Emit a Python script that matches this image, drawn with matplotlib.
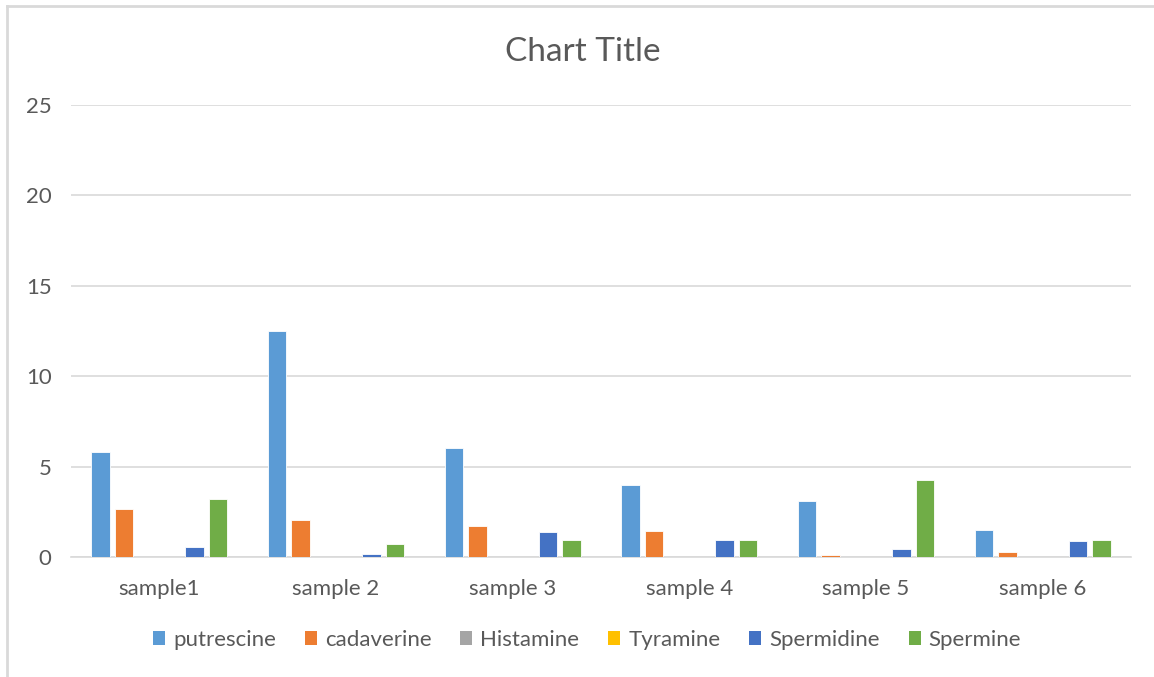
import matplotlib
matplotlib.use("Agg")
import matplotlib.pyplot as plt
from matplotlib.patches import Patch
from matplotlib.lines import Line2D
import numpy as np

# Chart data
samples = ["sample1", "sample 2", "sample 3", "sample 4", "sample 5", "sample 6"]
series_names = ["putrescine", "cadaverine", "Histamine", "Tyramine", "Spermidine", "Spermine"]
putrescine = [5.82, 12.5, 6.03, 3.99, 3.07, 1.51]
cadaverine = [2.63, 2.02, 1.73, 1.43, 0.09, 0.29]
histamine = [0, 0, 0, 0, 0, 0]
tyramine = [0, 0, 0, 0, 0, 0]
spermidine = [0.57, 0.15, 1.36, 0.96, 0.46, 0.86]
spermine = [3.2, 0.74, 0.96, 0.96, 4.26, 0.94]
y_ticks = [0, 5, 10, 15, 20, 25]

series_values = [putrescine, cadaverine, histamine, tyramine, spermidine, spermine]
colors = ["#5B9BD5", "#ED7D31", "#A5A5A5", "#FFC000", "#4472C4", "#70AD47"]
text_color = "#595959"
grid_color = "#D9D9D9"
font = ["Lato", "DejaVu Sans"]

plt.rcParams["font.family"] = font

W, H = 1154, 677
fig = plt.figure(figsize=(W / 100, H / 100), dpi=100)
fig.patch.set_facecolor("white")

ax = fig.add_axes([71 / W, (H - 557) / H, (1131 - 71) / W, (557 - 105) / H])

# Clustered columns: gap width 219%, overlap -27%
n_series = len(series_values)
bar_w = 1 / (n_series + (n_series - 1) * 0.27 + 2.19)
step = bar_w * 1.27
x = np.arange(len(samples))
for i, (vals, col) in enumerate(zip(series_values, colors)):
    offs = (i - (n_series - 1) / 2) * step
    ax.bar(x + offs, vals, width=bar_w, color=col, edgecolor="white",
           linewidth=0.6, zorder=3)

ax.set_xlim(-0.5, len(samples) - 0.5)
ax.set_ylim(0, 25)
ax.set_yticks(y_ticks)
ax.set_xticks(x)
ax.set_xticklabels(samples)
ax.yaxis.grid(True, color=grid_color, linewidth=1.2, zorder=0)
ax.set_axisbelow(True)
for s in ["top", "right", "left"]:
    ax.spines[s].set_visible(False)
ax.spines["bottom"].set_color(grid_color)
ax.spines["bottom"].set_linewidth(1.2)
ax.tick_params(axis="both", length=0, labelsize=16, colors=text_color)
ax.tick_params(axis="y", pad=14)
ax.tick_params(axis="x", pad=16)

fig.text(583 / W, 1 - 52 / H, "Chart Title", ha="center", va="center",
         fontsize=24, color=text_color)

handles = [Patch(facecolor=c, edgecolor="none") for c in colors]
leg = fig.legend(handles, series_names, loc="center", ncol=6,
                 bbox_to_anchor=(587 / W, 1 - 640 / H), frameon=False,
                 fontsize=16, handlelength=0.55, handleheight=0.55,
                 handletextpad=0.35, columnspacing=1.3)
for t in leg.get_texts():
    t.set_color(text_color)

# Chart area border (left and top edges)
fig.add_artist(Line2D([7 / W, 7 / W], [0, 1 - 6 / H], transform=fig.transFigure,
                      color="#D9D9D9", linewidth=2))
fig.add_artist(Line2D([7 / W, 1], [1 - 6 / H, 1 - 6 / H], transform=fig.transFigure,
                      color="#D9D9D9", linewidth=2))

fig.savefig("out.png", dpi=100)
